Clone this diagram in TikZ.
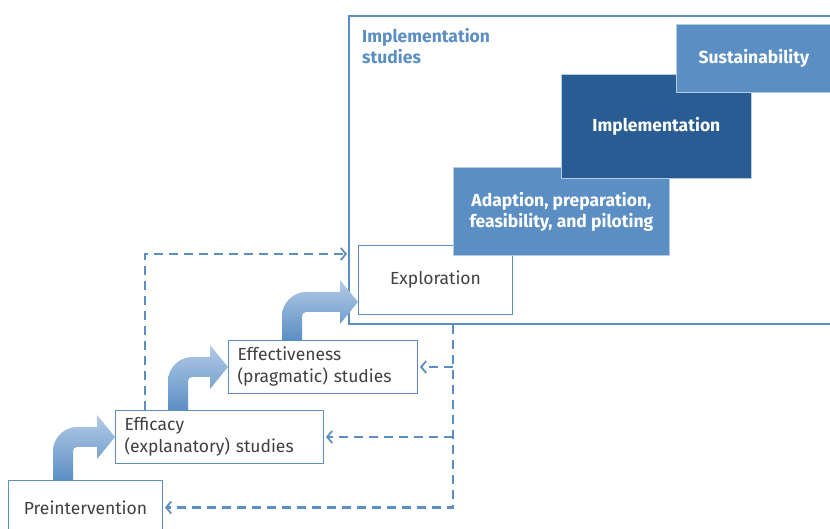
\documentclass[tikz,border=0pt]{standalone}
\usepackage{fontspec}
\setmainfont{Fira Sans}
\usetikzlibrary{calc,arrows.meta}

\definecolor{stageblue}{HTML}{5B8FC4}
\definecolor{stagedark}{HTML}{285C92}
\definecolor{stagelight}{HTML}{B5CBE6}
\definecolor{textgray}{HTML}{404040}

\tikzset{
  stagebox/.style={draw=stageblue, line width=1pt, fill=white, text=textgray,
    font=\fontsize{17.5}{22}\selectfont, anchor=north west, inner sep=0pt},
  bluebox/.style={draw=white!55!stageblue, line width=0.8pt, fill=stageblue, text=white,
    font=\fontsize{17.5}{21}\selectfont\bfseries, anchor=north west, align=center, inner sep=0pt},
  feedback/.style={draw=stageblue, line width=2.2pt, dash pattern=on 9pt off 6pt,
    -{Straight Barb[length=5pt,width=12pt,line width=1.8pt]}, shorten >=2pt},
  stagearrow/.style={top color=stagelight, bottom color=stageblue, draw=none}
}

% fat bent arrow: #1 start node, #2 tip point, #3 shaft offset from left of #1
\newcommand{\stepup}[3]{%
  \shade[stagearrow] let \p1 = (#1.north west), \p2 = (#2) in
    (\x1+#3, \y1) -- (\x1+#3, \y2-14)
    .. controls (\x1+#3, \y2-1) and (\x1+#3+11, \y2+10) .. (\x1+#3+24, \y2+10)
    -- (\x2-18, \y2+10) -- (\x2-18, \y2+22) -- (\x2, \y2)
    -- (\x2-18, \y2-22) -- (\x2-18, \y2-10) -- (\x1+#3+24, \y2-10)
    .. controls (\x1+#3+21, \y2-10) and (\x1+#3+20, \y2-12) .. (\x1+#3+20, \y2-15)
    -- (\x1+#3+20, \y1) -- cycle;
}

\begin{document}
\begin{tikzpicture}[x=1pt, y=1pt]

   \useasboundingbox (0,0) rectangle (830,529);

   \def\yfr{514}; % frame top
   \def\xfr{348}; % frame left

   % implementation frame
   \node[draw=stageblue, line width=2pt, anchor=north west, minimum width=520pt,
     minimum height=308pt, inner sep=0pt] (frame) at (\xfr, \yfr) {};
   \node[anchor=north west, text=stageblue, font=\fontsize{17.5}{21}\selectfont\bfseries,
     align=left, inner sep=0pt] (impllabel) at (\xfr + 14, \yfr - 13) {Implementation\\studies};

   % stages
   \node[stagebox, minimum width=154pt, minimum height=54pt] (pre) at (8, 49) {Preintervention};
   \node[stagebox, text width=190pt, inner xsep=9pt, minimum height=53pt, align=left]
     (eff) at (115, 119) {Efficacy\\(explanatory) studies};
   \node[stagebox, text width=171pt, inner xsep=9pt, minimum height=53pt, align=left]
     (effv) at (228, 189) {Effectiveness\\(pragmatic) studies};
   \node[stagebox, minimum width=154pt, minimum height=69pt] (expl) at (358, 284) {Exploration};

   \node[bluebox, minimum width=216pt, minimum height=88pt] (adapt) at (453, 362)
     {Adaption, preparation,\\feasibility, and piloting};
   \node[bluebox, fill=stagedark, minimum width=190pt, minimum height=104pt] (implem) at (561, 455)
     {Implementation};
   \node[bluebox, minimum width=155pt, minimum height=68pt] (sustain) at (676, 505)
     {Sustainability};

   % step-up arrows
   \stepup{pre}{eff.west}{45}
   \stepup{eff}{effv.west}{53}
   \stepup{effv}{$(expl.west)+(0,-22)$}{54}

   % feedback loops
   \coordinate (fbstart) at ([xshift=30pt]eff.north west);
   \coordinate (fbrow) at ([yshift=-9pt]expl.north);
   \draw[feedback, shorten >=1pt] (fbstart) |- (frame.west |- fbrow);

   \coordinate (trunk) at ([xshift=105pt]frame.south west);
   \draw[feedback] (trunk) |- (pre.east);
   \draw[feedback] (trunk |- eff.east) -- (eff.east);
   \draw[feedback] (trunk |- effv.east) -- (effv.east);

\end{tikzpicture}
\end{document}
